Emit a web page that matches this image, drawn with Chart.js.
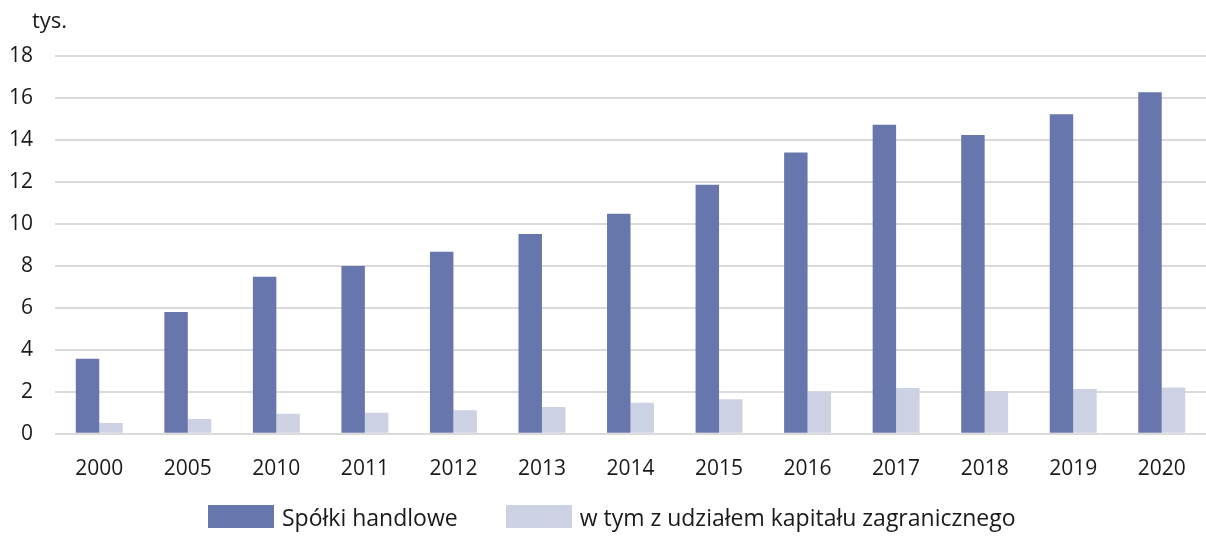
<!DOCTYPE html>
<html>
<head>
<meta charset="utf-8">
<script src="https://cdn.jsdelivr.net/npm/chart.js@4"></script>
<style>
  html, body { margin: 0; padding: 0; background: #fff; }
  #wrap { width: 1206px; height: 536px; position: relative; }
  #legend {
    position: absolute; left: 208px; top: 505px; height: 23px;
    display: flex; align-items: center;
    font-family: 'Open Sans', 'Noto Sans', sans-serif; font-size: 23px; color: #1a1a1a;
  }
  #legend .item { display: flex; align-items: center; margin-right: 48px; }
  #legend .box { width: 66px; height: 23px; margin-right: 8px; }
</style>
</head>
<body>
<div id="wrap">
  <canvas id="chart"></canvas>
  <div id="legend"></div>
</div>
<script>
const years = ['2000', '2005', '2010', '2011', '2012', '2013', '2014', '2015', '2016', '2017', '2018', '2019', '2020'];
const spolki = [3.57, 5.8, 7.48, 8.0, 8.67, 9.52, 10.48, 11.86, 13.4, 14.73, 14.24, 15.22, 16.27];
const zagraniczne = [0.52, 0.71, 0.95, 1.0, 1.12, 1.28, 1.48, 1.65, 2.02, 2.18, 2.03, 2.14, 2.2];
const yTicks = [0, 2, 4, 6, 8, 10, 12, 14, 16, 18];

const font = "'Open Sans', 'Noto Sans', sans-serif";

// "tys." unit label above the y axis
const unitLabel = {
  id: 'unitLabel',
  afterDraw(chart) {
    const ctx = chart.ctx;
    ctx.save();
    ctx.font = "22px " + font;
    ctx.fillStyle = '#1a1a1a';
    ctx.textBaseline = 'alphabetic';
    ctx.fillText('tys.', 32, 28);
    ctx.restore();
  }
};

const chart = new Chart(document.getElementById('chart'), {
  type: 'bar',
  data: {
    labels: years,
    datasets: [
      { label: 'Spółki handlowe', data: spolki, backgroundColor: '#6777ad' },
      { label: 'w tym z udziałem kapitału zagranicznego', data: zagraniczne, backgroundColor: '#ccd1e3' }
    ]
  },
  options: {
    responsive: true,
    maintainAspectRatio: false,
    animation: false,
    layout: { padding: { top: 56, left: 0, right: 0, bottom: 39 } },
    datasets: { bar: { barPercentage: 1, categoryPercentage: 0.53 } },
    scales: {
      x: {
        grid: { display: false },
        border: { display: false },
        ticks: { color: '#1a1a1a', font: { family: font, size: 21 }, padding: 15, maxRotation: 0 }
      },
      y: {
        min: 0, max: 18,
        afterBuildTicks: axis => { axis.ticks = yTicks.map(v => ({ value: v })); },
        afterFit: axis => { axis.width = 55; },
        grid: { color: '#dadada', lineWidth: 2, drawTicks: false },
        border: { display: false },
        ticks: { color: '#1a1a1a', font: { family: font, size: 21 }, padding: 22 }
      }
    },
    plugins: {
      legend: { display: false },
      tooltip: { enabled: false }
    }
  },
  plugins: [unitLabel]
});

// legend as html below the plot
document.getElementById('legend').innerHTML = chart.data.datasets.map(ds =>
  `<div class="item"><div class="box" style="background:${ds.backgroundColor}"></div><span>${ds.label}</span></div>`
).join('');
</script>
</body>
</html>
